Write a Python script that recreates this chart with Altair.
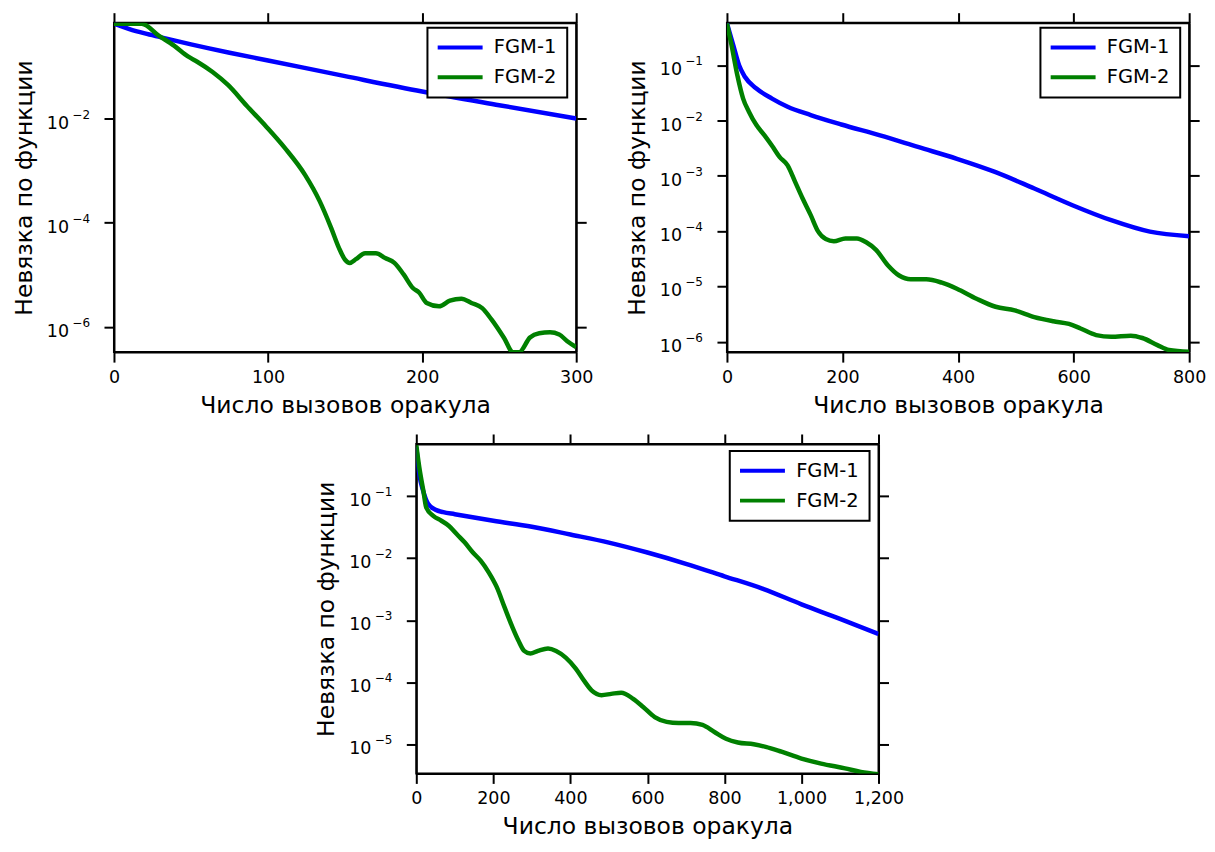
import altair as alt
import pandas as pd

FONT = "DejaVu Sans"
SERIES = ["FGM-1", "FGM-2"]
COLORS = ["#0000ff", "#008000"]
XTITLE = "Число вызовов оракула"
YTITLE = "Невязка по функции"

# ---------- panel 1 ----------
p1_x_ticks = [0, 100, 200, 300]
p1_y_ticks = [1e-2, 1e-4, 1e-6]
p1_y_sup = ["−2", "−4", "−6"]
p1_fgm1_x = [0, 10, 20, 30, 50, 75, 100, 150, 200, 250, 300]
p1_fgm1_y = [0.66, 0.52, 0.43, 0.365, 0.265, 0.183, 0.13, 0.065, 0.033, 0.018, 0.010]
p1_fgm2_x = [0, 18, 29, 39, 48, 54, 64, 74, 86, 99, 111, 124, 133.5, 141, 146, 150, 153,
             157, 163, 170, 176, 182, 188, 194, 198, 203, 211, 218, 225.5, 232, 239, 245,
             253, 259, 263, 270, 276, 283, 289, 294, 300]
p1_fgm2_y = [0.66, 0.66, 0.39, 0.25, 0.155, 0.123, 0.078, 0.044, 0.0178, 0.0069, 0.0027,
             8.3e-4, 2.6e-4, 7.9e-5, 3.3e-5, 1.95e-5, 1.7e-5, 2.0e-5, 2.6e-5, 2.6e-5, 2.1e-5,
             1.7e-5, 1.02e-5, 5.6e-6, 4.6e-6, 2.9e-6, 2.5e-6, 3.2e-6, 3.5e-6, 2.9e-6, 2.3e-6,
             1.4e-6, 6.3e-7, 3.3e-7, 3.3e-7, 6.3e-7, 7.6e-7, 7.9e-7, 7.2e-7, 5.4e-7, 4.1e-7]

# ---------- panel 2 ----------
p2_x_ticks = [0, 200, 400, 600, 800]
p2_y_ticks = [1e-1, 1e-2, 1e-3, 1e-4, 1e-5, 1e-6]
p2_y_sup = ["−1", "−2", "−3", "−4", "−5", "−6"]
p2_fgm1_x = [0, 11, 21, 31, 51, 78, 105, 145, 198, 265, 332, 398, 465, 532, 598, 665, 732, 800]
p2_fgm1_y = [0.57, 0.23, 0.10, 0.062, 0.038, 0.025, 0.0178, 0.0126, 0.0085, 0.0054, 0.0033,
             0.00204, 0.00117, 5.9e-4, 2.95e-4, 1.58e-4, 9.8e-5, 8.1e-5]
p2_fgm2_x = [0, 8, 18, 28, 38, 51, 65, 78, 91, 105, 118, 131, 145, 158, 171, 185, 205, 225,
             241, 258, 278, 298, 318, 345, 372, 398, 432, 465, 498, 532, 565, 592, 612, 639,
             665, 699, 719, 745, 765, 800]
p2_fgm2_y = [0.57, 0.23, 0.066, 0.025, 0.0145, 0.0083, 0.0054, 0.0035, 0.0022, 0.00155,
             7.8e-4, 3.9e-4, 1.95e-4, 9.8e-5, 7.2e-5, 6.6e-5, 7.4e-5, 7.4e-5, 6.3e-5, 4.6e-5,
             2.45e-5, 1.58e-5, 1.35e-5, 1.35e-5, 1.17e-5, 9.1e-6, 6.0e-6, 4.3e-6, 3.7e-6,
             2.8e-6, 2.35e-6, 2.1e-6, 1.74e-6, 1.32e-6, 1.23e-6, 1.29e-6, 1.17e-6, 8.7e-7,
             7.1e-7, 6.6e-7]

# ---------- panel 3 ----------
p3_x_ticks = [0, 200, 400, 600, 800, 1000, 1200]
p3_y_ticks = [1e-1, 1e-2, 1e-3, 1e-4, 1e-5]
p3_y_sup = ["−1", "−2", "−3", "−4", "−5"]
p3_fgm1_x = [0, 8, 18, 30, 50, 70, 100, 200, 300, 400, 500, 600, 700, 800, 900, 1000, 1100, 1200]
p3_fgm1_y = [0.62, 0.22, 0.12, 0.076, 0.060, 0.055, 0.051, 0.040, 0.032, 0.024, 0.0178,
             0.0123, 0.0081, 0.0051, 0.0032, 0.0018, 0.00105, 6.0e-4]
p3_fgm2_x = [0, 8, 18.5, 26, 44, 65, 85, 106, 126, 147, 167, 188, 209, 229, 250, 265, 280,
             296, 316, 342, 363, 388, 414, 435, 455, 481, 506, 532, 563, 589, 619, 650, 681,
             712, 743, 774, 804, 835, 876, 907, 948, 1000, 1051, 1113, 1154, 1200]
p3_fgm2_y = [0.66, 0.285, 0.12, 0.065, 0.048, 0.040, 0.033, 0.024, 0.0178, 0.0123, 0.0091,
             0.0059, 0.0034, 0.00162, 7.6e-4, 4.7e-4, 3.2e-4, 2.9e-4, 3.2e-4, 3.5e-4, 3.2e-4,
             2.5e-4, 1.66e-4, 1.07e-4, 7.4e-5, 6.2e-5, 6.5e-5, 6.8e-5, 5.4e-5, 4.0e-5,
             2.75e-5, 2.3e-5, 2.2e-5, 2.2e-5, 2.05e-5, 1.58e-5, 1.23e-5, 1.07e-5, 1.0e-5,
             9.1e-6, 7.6e-6, 5.9e-6, 4.9e-6, 4.1e-6, 3.6e-6, 3.3e-6]


def make_panel(x1, y1, x2, y2, xdom, ydom, xticks, yticks, ysup, xfmt, legend_y):
    df = pd.DataFrame({
        "x": x1 + x2,
        "y": y1 + y2,
        "series": [SERIES[0]] * len(x1) + [SERIES[1]] * len(x2),
    })
    tick_df = pd.DataFrame({"y": yticks, "base": ["10"] * len(yticks), "sup": ysup})
    xscale = alt.Scale(domain=xdom, nice=False, zero=False)
    yscale = alt.Scale(type="log", domain=ydom, nice=False)
    lines = alt.Chart(df).mark_line(strokeWidth=4.5, interpolate="monotone", clip=True).encode(
        x=alt.X("x:Q", scale=xscale,
                axis=alt.Axis(values=xticks, format=xfmt, title=XTITLE, labelFlush=False,
                              orient="bottom")),
        y=alt.Y("y:Q", scale=yscale,
                axis=alt.Axis(values=yticks, labels=False, title=YTITLE, orient="left")),
        color=alt.Color("series:N", scale=alt.Scale(domain=SERIES, range=COLORS),
                        legend=alt.Legend(title=None, orient="none", legendX=314,
                                          legendY=legend_y)),
    )
    mirror = alt.Chart(df).mark_point(opacity=0, clip=True).encode(
        x=alt.X("x:Q", scale=xscale,
                axis=alt.Axis(values=xticks, labels=False, title=None, orient="top")),
        y=alt.Y("y:Q", scale=yscale,
                axis=alt.Axis(values=yticks, labels=False, title=None, orient="right")),
    )
    base_lbl = alt.Chart(tick_df).mark_text(
        align="right", baseline="alphabetic", dy=10, font=FONT, fontSize=17.5, color="black"
    ).encode(y=alt.Y("y:Q", scale=yscale, axis=None), x=alt.value(-45), text="base:N")
    sup_lbl = alt.Chart(tick_df).mark_text(
        align="right", baseline="alphabetic", dy=0, font=FONT, fontSize=12, color="black"
    ).encode(y=alt.Y("y:Q", scale=yscale, axis=None), x=alt.value(-24), text="sup:N")
    return alt.layer(lines, mirror, base_lbl, sup_lbl).resolve_axis(
        x="independent", y="independent").properties(width=463, height=330)


p1 = make_panel(p1_fgm1_x, p1_fgm1_y, p1_fgm2_x, p1_fgm2_y, [0, 300], [3.3e-7, 0.69],
                p1_x_ticks, p1_y_ticks, p1_y_sup, "d", 5)
p2 = make_panel(p2_fgm1_x, p2_fgm1_y, p2_fgm2_x, p2_fgm2_y, [0, 800], [6.5e-7, 0.59],
                p2_x_ticks, p2_y_ticks, p2_y_sup, "d", 5)
p3 = make_panel(p3_fgm1_x, p3_fgm1_y, p3_fgm2_x, p3_fgm2_y, [0, 1200], [3.4e-6, 0.69],
                p3_x_ticks, p3_y_ticks, p3_y_sup, ",d", 7)

top = alt.hconcat(p1, p2, spacing=30).resolve_scale(color="independent")
chart = alt.vconcat(top, p3, spacing=14, center=True).resolve_scale(color="independent").properties(
    padding={"left": 3, "top": 2, "right": 0, "bottom": 2}
).configure_axis(
    domainColor="black", domainWidth=2, tickColor="black", tickWidth=2, tickSize=10,
    labelFont=FONT, labelFontSize=17.5, labelColor="black",
    titleFont=FONT, titleFontSize=23.5, titleFontWeight="normal", titleColor="black",
    grid=False,
).configure_axisX(
    labelPadding=6, titlePadding=7.5,
).configure_axisY(
    labelPadding=10, titlePadding=67,
).configure_view(
    stroke="black", strokeWidth=2,
).configure_legend(
    strokeColor="black", strokeWidth=2, padding=10, fillColor="white",
    labelFont=FONT, labelFontSize=19.5, labelColor="black",
    symbolType="M-3,0H3", symbolSize=225, symbolStrokeWidth=4, symbolOffset=13,
    rowPadding=9, labelOffset=24,
)

chart.save("out.html", embed_options={"renderer": "svg", "actions": False})
